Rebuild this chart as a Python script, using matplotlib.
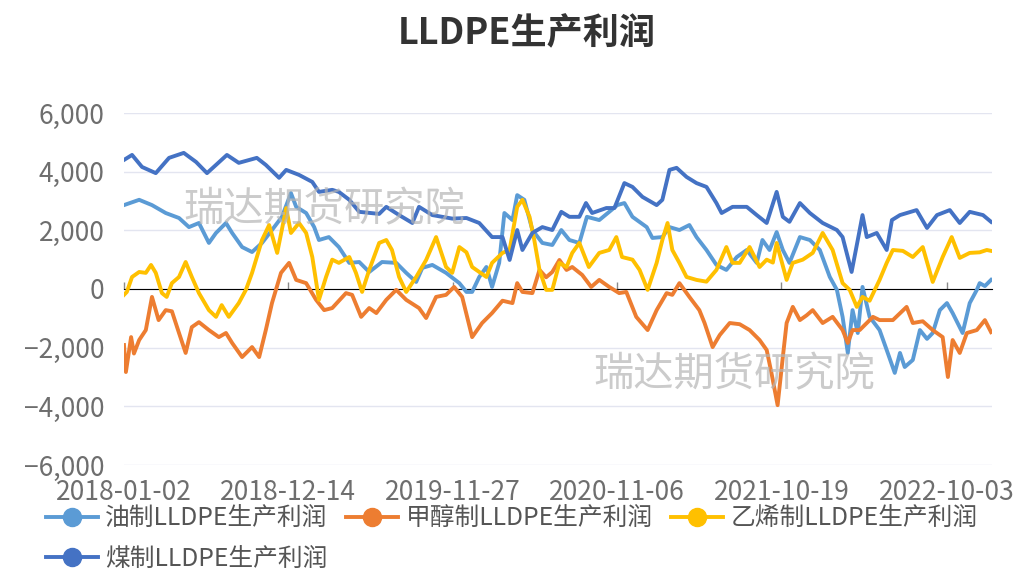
import pandas as pd
import matplotlib
matplotlib.use("Agg")
import matplotlib.pyplot as plt
from matplotlib.ticker import FuncFormatter

plt.rcParams['font.family'] = ['Noto Sans CJK SC', 'DejaVu Sans']
plt.rcParams['axes.unicode_minus'] = True

# 煤制
coal_dates = ['2018-01-02', '2018-01-19', '2018-02-09', '2018-03-10', '2018-04-07', '2018-05-08',
              '2018-06-03', '2018-06-26', '2018-07-15', '2018-08-07', '2018-09-01', '2018-10-09',
              '2018-10-28', '2018-11-25', '2018-12-10', '2019-01-06', '2019-02-03', '2019-02-17',
              '2019-03-17', '2019-03-31', '2019-04-22', '2019-05-13', '2019-06-24', '2019-07-09',
              '2019-08-05', '2019-09-02', '2019-09-16', '2019-10-14', '2019-11-25', '2019-12-25',
              '2020-01-21', '2020-02-17', '2020-03-10', '2020-03-25', '2020-04-10', '2020-04-21',
              '2020-05-12', '2020-06-02', '2020-06-23', '2020-07-12', '2020-07-29', '2020-08-19',
              '2020-09-02', '2020-09-15', '2020-10-15', '2020-11-01', '2020-11-22', '2020-12-09',
              '2020-12-30', '2021-01-29', '2021-02-10', '2021-02-25', '2021-03-12', '2021-04-02',
              '2021-04-23', '2021-05-14', '2021-06-04', '2021-06-15', '2021-07-08', '2021-08-07',
              '2021-08-28', '2021-09-18', '2021-10-09', '2021-10-22', '2021-11-05', '2021-11-27',
              '2021-12-18', '2022-01-14', '2022-02-13', '2022-02-25', '2022-03-16', '2022-03-29',
              '2022-04-08', '2022-04-17', '2022-05-08', '2022-05-29', '2022-06-09', '2022-06-26',
              '2022-07-31', '2022-08-22', '2022-09-12', '2022-10-09', '2022-10-30', '2022-11-20',
              '2022-12-18', '2023-01-04']
coal_vals = [4400, 4570, 4160, 3950, 4470, 4640, 4330, 3950, 4230, 4570, 4300, 4470,
             4230, 3790, 4060, 3890, 3650, 3310, 3380, 3310, 3040, 2630, 2560, 2800,
             2520, 2250, 2800, 2520, 2400, 2420, 2250, 1770, 1770, 990, 2010, 1330,
             1910, 2110, 2010, 2630, 2460, 2460, 2930, 2590, 2760, 2760, 3610, 3480,
             3140, 2860, 3040, 4060, 4130, 3820, 3610, 3480, 2930, 2590, 2800, 2800,
             2520, 2250, 3310, 2460, 2290, 2930, 2590, 2250, 2010, 1770, 580, 1670,
             2520, 1770, 1910, 1330, 2350, 2520, 2690, 2080, 2520, 2690, 2250, 2630,
             2520, 2290]

# 油制
oil_dates = ['2018-01-02', '2018-02-03', '2018-03-02', '2018-03-31', '2018-04-28', '2018-05-19',
             '2018-06-09', '2018-06-30', '2018-07-15', '2018-08-05', '2018-08-18', '2018-09-08',
             '2018-09-29', '2018-10-20', '2018-11-10', '2018-12-01', '2018-12-20', '2018-12-31',
             '2019-01-21', '2019-02-07', '2019-02-17', '2019-03-10', '2019-03-31', '2019-04-22',
             '2019-05-13', '2019-06-03', '2019-06-30', '2019-07-30', '2019-08-20', '2019-09-10',
             '2019-09-23', '2019-10-14', '2019-11-12', '2019-12-10', '2019-12-25', '2020-01-06',
             '2020-01-21', '2020-02-05', '2020-02-17', '2020-03-03', '2020-03-14', '2020-03-31',
             '2020-04-10', '2020-04-25', '2020-05-12', '2020-06-02', '2020-06-23', '2020-07-12',
             '2020-07-29', '2020-08-19', '2020-09-04', '2020-09-30', '2020-10-21', '2020-11-07',
             '2020-11-22', '2020-12-09', '2021-01-08', '2021-01-20', '2021-02-10', '2021-02-25',
             '2021-03-18', '2021-04-08', '2021-04-23', '2021-05-14', '2021-06-04', '2021-06-25',
             '2021-07-17', '2021-08-07', '2021-08-28', '2021-09-09', '2021-09-24', '2021-10-09',
             '2021-10-22', '2021-11-05', '2021-11-27', '2021-12-18', '2022-01-08', '2022-01-29',
             '2022-02-13', '2022-02-25', '2022-03-08', '2022-03-18', '2022-03-29', '2022-04-08',
             '2022-04-23', '2022-05-14', '2022-05-29', '2022-06-15', '2022-06-26', '2022-07-06',
             '2022-07-23', '2022-08-07', '2022-08-22', '2022-09-03', '2022-09-18', '2022-10-03',
             '2022-10-15', '2022-11-05', '2022-11-20', '2022-12-05', '2022-12-11', '2022-12-22',
             '2023-01-04']
oil_vals = [2860, 3040, 2860, 2590, 2420, 2110, 2250, 1570, 1910, 2250, 1910, 1430,
            1260, 1570, 2010, 2460, 3270, 2800, 2590, 2110, 1670, 1770, 1430, 890,
            920, 580, 920, 890, 550, 240, 720, 820, 550, 200, -100, -100,
            410, 750, 70, 890, 2590, 2350, 3200, 3040, 2010, 1570, 1500, 2010,
            1670, 1570, 2460, 2350, 2630, 2860, 2930, 2460, 2110, 1740, 1770, 2110,
            2010, 2180, 1770, 1330, 820, 650, 1090, 1330, 890, 1670, 1330, 1940,
            1330, 890, 1770, 1670, 1330, 410, -30, -950, -2180, -720, -1500, 70,
            -950, -1400, -2080, -2860, -2180, -2660, -2420, -1400, -1700, -1500, -720, -480,
            -820, -1500, -480, -30, 200, 100, 310]

# 甲醇制
meth_dates = ['2018-01-02', '2018-01-06', '2018-01-17', '2018-01-23', '2018-02-03', '2018-02-17',
              '2018-03-02', '2018-03-16', '2018-03-31', '2018-04-13', '2018-04-28', '2018-05-12',
              '2018-05-25', '2018-06-09', '2018-06-30', '2018-07-21', '2018-08-05', '2018-08-18',
              '2018-09-08', '2018-09-29', '2018-10-14', '2018-10-28', '2018-11-10', '2018-11-29',
              '2018-12-16', '2018-12-31', '2019-01-21', '2019-02-11', '2019-02-28', '2019-03-17',
              '2019-04-15', '2019-04-28', '2019-05-17', '2019-06-03', '2019-06-18', '2019-07-09',
              '2019-07-30', '2019-08-20', '2019-09-16', '2019-10-01', '2019-10-22', '2019-11-12',
              '2019-11-29', '2019-12-16', '2020-01-06', '2020-01-27', '2020-02-17', '2020-03-10',
              '2020-03-31', '2020-04-10', '2020-04-21', '2020-05-12', '2020-05-27', '2020-06-10',
              '2020-06-23', '2020-07-08', '2020-07-23', '2020-08-04', '2020-08-25', '2020-09-13',
              '2020-09-30', '2020-10-21', '2020-11-11', '2020-11-26', '2020-12-17', '2021-01-10',
              '2021-01-29', '2021-02-19', '2021-03-03', '2021-03-18', '2021-04-08', '2021-04-29',
              '2021-05-10', '2021-05-27', '2021-06-11', '2021-07-02', '2021-07-23', '2021-08-13',
              '2021-09-03', '2021-09-18', '2021-09-28', '2021-10-11', '2021-10-22', '2021-10-30',
              '2021-11-12', '2021-11-27', '2021-12-11', '2021-12-24', '2022-01-14', '2022-02-04',
              '2022-02-25', '2022-03-08', '2022-03-18', '2022-04-02', '2022-04-17', '2022-04-30',
              '2022-05-14', '2022-06-11', '2022-07-10', '2022-07-23', '2022-08-13', '2022-09-03',
              '2022-09-24', '2022-10-05', '2022-10-15', '2022-10-30', '2022-11-14', '2022-12-05',
              '2022-12-22', '2023-01-04']
meth_vals = [-1910, -2830, -1640, -2200, -1740, -1400, -270, -1060, -720, -760, -1500, -2180,
             -1300, -1130, -1400, -1640, -1500, -1840, -2320, -1980, -2320, -1400, -480, 550,
             890, 310, 200, -370, -720, -650, -140, -200, -950, -650, -820, -370,
             -30, -370, -650, -990, -270, -200, 70, -270, -1640, -1160, -820, -400,
             -480, 200, -100, -140, 650, 400, 580, 990, 650, 750, 480, 70,
             310, 70, -140, -100, -950, -1400, -720, -140, -200, 200, -270, -720,
             -1160, -1980, -1570, -1160, -1200, -1400, -1740, -2080, -2860, -3960, -2320, -1160,
             -610, -1060, -900, -720, -1160, -950, -1400, -1840, -1400, -1400, -1160, -950,
             -1060, -1060, -610, -1160, -1100, -1400, -1640, -3000, -1740, -2180, -1500, -1400,
             -1060, -1470]

# 乙烯制
eth_dates = ['2018-01-02', '2018-01-08', '2018-01-19', '2018-02-03', '2018-02-17', '2018-02-28',
             '2018-03-10', '2018-03-23', '2018-04-02', '2018-04-13', '2018-04-28', '2018-05-12',
             '2018-05-25', '2018-06-09', '2018-06-30', '2018-07-15', '2018-07-27', '2018-08-11',
             '2018-09-01', '2018-09-16', '2018-09-29', '2018-10-20', '2018-11-04', '2018-11-21',
             '2018-12-10', '2018-12-20', '2019-01-06', '2019-01-21', '2019-02-03', '2019-02-17',
             '2019-03-04', '2019-03-17', '2019-03-31', '2019-04-22', '2019-05-06', '2019-05-19',
             '2019-06-03', '2019-06-24', '2019-07-09', '2019-07-21', '2019-08-05', '2019-08-20',
             '2019-09-10', '2019-10-01', '2019-10-22', '2019-11-12', '2019-11-25', '2019-12-10',
             '2019-12-25', '2020-01-06', '2020-02-05', '2020-02-17', '2020-03-10', '2020-03-25',
             '2020-04-10', '2020-04-21', '2020-05-06', '2020-05-16', '2020-05-27', '2020-06-10',
             '2020-06-23', '2020-07-08', '2020-07-23', '2020-08-04', '2020-08-19', '2020-09-08',
             '2020-09-30', '2020-10-21', '2020-11-05', '2020-11-17', '2020-12-09', '2020-12-24',
             '2021-01-10', '2021-01-29', '2021-02-10', '2021-02-21', '2021-03-03', '2021-03-18',
             '2021-04-02', '2021-04-23', '2021-05-14', '2021-06-04', '2021-06-25', '2021-07-08',
             '2021-07-23', '2021-08-13', '2021-09-03', '2021-09-18', '2021-10-01', '2021-10-09',
             '2021-10-30', '2021-11-12', '2021-12-03', '2021-12-24', '2022-01-14', '2022-02-04',
             '2022-02-25', '2022-03-12', '2022-03-27', '2022-04-08', '2022-04-23', '2022-05-14',
             '2022-05-29', '2022-06-11', '2022-07-02', '2022-07-23', '2022-08-13', '2022-09-03',
             '2022-09-24', '2022-10-13', '2022-10-30', '2022-11-20', '2022-12-11', '2022-12-26',
             '2023-01-04']
eth_vals = [-200, -100, 410, 580, 550, 820, 550, -140, -270, 200, 410, 920,
            410, -140, -720, -950, -550, -950, -480, -30, 550, 1670, 2180, 1230,
            2760, 1910, 2250, 1910, 1090, -370, 410, 1000, 890, 1090, 550, -100,
            650, 1570, 1670, 1330, 410, -100, 410, 990, 1770, 750, 550, 1430,
            1250, 750, 410, 890, 1230, 1330, 2800, 3040, 2460, 1670, 650, -30,
            -30, 890, 750, 1230, 1570, 750, 1230, 1330, 1770, 1090, 1000, 650,
            -30, 890, 1670, 2250, 1330, 890, 410, 310, 250, 650, 1430, 890,
            890, 1430, 750, 1000, 900, 1570, 310, 890, 1000, 1230, 1910, 1330,
            200, -30, -610, -270, -400, 310, 890, 1330, 1300, 1090, 1430, 240,
            1090, 1770, 1060, 1230, 1250, 1330, 1300]

tick_labels = ['2018-01-02', '2018-12-14', '2019-11-27', '2020-11-06', '2021-10-19', '2022-10-03']
x_start, x_end = '2018-01-02', '2023-01-06'

series = [
    ('油制LLDPE生产利润', oil_dates, oil_vals, '#5b9bd5'),
    ('甲醇制LLDPE生产利润', meth_dates, meth_vals, '#ed7d31'),
    ('乙烯制LLDPE生产利润', eth_dates, eth_vals, '#ffc000'),
    ('煤制LLDPE生产利润', coal_dates, coal_vals, '#4472c4'),
]

fig = plt.figure(figsize=(10.23, 5.75), dpi=100)
ax = fig.add_axes([0.1212, 0.1913, 0.8485, 0.6122])

handles = {}
for name, d, v, c in series:
    h, = ax.plot(pd.to_datetime(d), v, color=c, lw=2.8, label=name,
                 solid_joinstyle='round')
    handles[name] = h

ax.set_ylim(-6000, 6000)
ax.set_yticks(range(-6000, 6001, 2000))
ax.yaxis.set_major_formatter(FuncFormatter(lambda v, p: f'{int(v):,}'.replace('-', '−')))
ax.set_xlim(pd.Timestamp(x_start), pd.Timestamp(x_end))
ax.set_xticks(pd.to_datetime(tick_labels))
ax.set_xticklabels(tick_labels)
ax.grid(axis='y', color='#e3e5f0', lw=1)
ax.set_axisbelow(True)
for s in ax.spines.values():
    s.set_visible(False)
ax.tick_params(axis='both', length=0, labelsize=19, colors='#6e6e6e')
ax.tick_params(axis='y', pad=14)
ax.tick_params(axis='x', pad=10)

zero = ax.secondary_xaxis(0.5)
zero.set_xticks(pd.to_datetime(tick_labels))
zero.set_xticklabels([])
zero.tick_params(length=5, width=1, color='#8a8a8a', labelbottom=False, labeltop=False)
zero.spines['bottom'].set_color('#8a8a8a')
zero.spines['bottom'].set_linewidth(1.2)
zero.set_zorder(1)

fig.text(0.515, 0.942, 'LLDPE生产利润', ha='center', va='center', fontsize=26,
         fontweight='bold', color='#333333')

for tx, ty in [(0.317, 0.635), (0.718, 0.348)]:
    fig.text(tx, ty, '瑞达期货研究院', ha='center', va='center', fontsize=29,
             color='#b5b5b5', alpha=0.7, zorder=10)

# row-major legend order: 油, 甲醇, 乙烯 / 煤
order = ['油制LLDPE生产利润', '煤制LLDPE生产利润', '甲醇制LLDPE生产利润', '乙烯制LLDPE生产利润']
leg_handles = []
for name in order:
    lh, = ax.plot([], [], color=handles[name].get_color(), lw=2.8, marker='o', markersize=13)
    leg_handles.append(lh)
fig.legend(leg_handles, order, loc='upper left', ncol=3,
           bbox_to_anchor=(0.045, 0.121), frameon=False, fontsize=17.8,
           handlelength=2.1, columnspacing=0.75, handletextpad=0.3, labelspacing=0.58,
           labelcolor='#555555', borderaxespad=0, borderpad=0)

fig.savefig('out.png', dpi=100)
